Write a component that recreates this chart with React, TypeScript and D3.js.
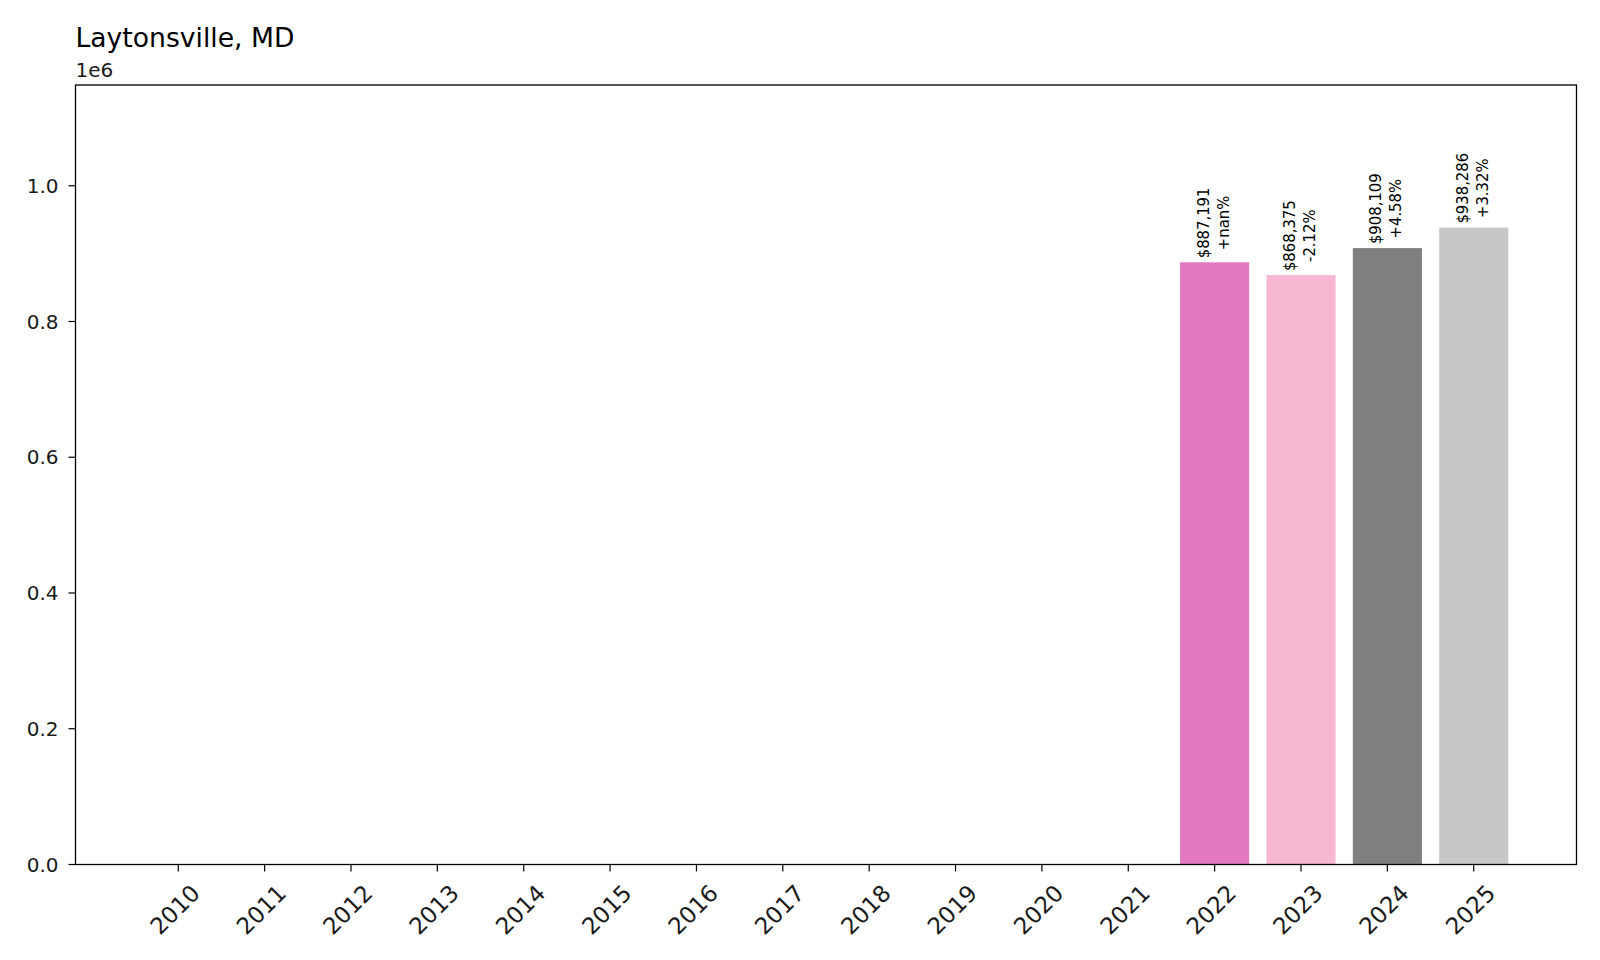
import React, { useEffect, useRef } from "react";
import * as d3 from "d3";

const title = "Laytonsville, MD";
const years = ["2010", "2011", "2012", "2013", "2014", "2015", "2016", "2017", "2018", "2019", "2020", "2021", "2022", "2023", "2024", "2025"];
const values = [0, 0, 0, 0, 0, 0, 0, 0, 0, 0, 0, 0, 887191, 868375, 908109, 938286];
const priceLabels = ["", "", "", "", "", "", "", "", "", "", "", "", "$887,191", "$868,375", "$908,109", "$938,286"];
const pctLabels = ["", "", "", "", "", "", "", "", "", "", "", "", "+nan%", "-2.12%", "+4.58%", "+3.32%"];
const barColors = ["#1f77b4", "#aec7e8", "#ff7f0e", "#ffbb78", "#2ca02c", "#98df8a", "#d62728", "#ff9896", "#9467bd", "#c5b0d5", "#8c564b", "#c49c94", "#e377c2", "#f7b6d2", "#7f7f7f", "#c7c7c7"];
const yTicks = [0, 0.2e6, 0.4e6, 0.6e6, 0.8e6, 1.0e6];
const yTickLabels = ["0.0", "0.2", "0.4", "0.6", "0.8", "1.0"];
const yMax = 1.1484e6;

const W = 1600;
const H = 960;
const FONT = "'DejaVu Sans', sans-serif";
const ANN_FONT = "'DejaVu Sans Condensed', 'DejaVu Sans', sans-serif";

export default function App() {
  const ref = useRef<SVGSVGElement | null>(null);

  useEffect(() => {
    const svg = d3.select(ref.current);
    svg.selectAll("*").remove();

    const left = 75.5, right = 1576.5, top = 85, bottom = 864.5;
    const n = years.length;
    const x = d3.scaleLinear().domain([-1.19, n - 1 + 1.19]).range([left, right]);
    const y = d3.scaleLinear().domain([0, yMax]).range([bottom, top]);
    const bw = 0.8;

    svg.append("rect").attr("x", 0).attr("y", 0).attr("width", W).attr("height", H).attr("fill", "#fff");

    // bars
    svg.append("g").selectAll("rect").data(values).join("rect")
      .attr("x", (_d, i) => x(i - bw / 2))
      .attr("width", x(bw) - x(0))
      .attr("y", (d) => y(d))
      .attr("height", (d) => y(0) - y(d))
      .attr("fill", (_d, i) => barColors[i]);

    // annotations
    const ann = svg.append("g").attr("font-family", ANN_FONT).attr("font-size", 16.5).attr("fill", "#000");
    values.forEach((v, i) => {
      if (!v) return;
      const g = ann.append("g").attr("transform", `translate(${x(i)},${y(v) - 4}) rotate(-90)`);
      const t1 = g.append("text").attr("y", -6).attr("text-anchor", "middle").text(priceLabels[i]);
      const t2 = g.append("text").attr("y", 14).attr("text-anchor", "middle").text(pctLabels[i]);
      const l1 = (t1.node() as SVGTextElement).getComputedTextLength();
      const l2 = (t2.node() as SVGTextElement).getComputedTextLength();
      const half = Math.max(l1, l2) / 2;
      t1.attr("x", half);
      t2.attr("x", half);
    });

    // frame
    svg.append("rect").attr("x", left).attr("y", top).attr("width", right - left).attr("height", bottom - top)
      .attr("fill", "none").attr("stroke", "#000").attr("stroke-width", 1.3);

    // y ticks
    const yt = svg.append("g").attr("font-family", FONT).attr("font-size", 20).attr("fill", "#1a1a1a");
    yTicks.forEach((t, i) => {
      yt.append("line").attr("x1", left - 7).attr("x2", left).attr("y1", y(t)).attr("y2", y(t)).attr("stroke", "#000").attr("stroke-width", 1.2);
      yt.append("text").attr("x", left - 17).attr("y", y(t)).attr("dy", "0.36em").attr("text-anchor", "end").text(yTickLabels[i]);
    });

    // x ticks
    const xt = svg.append("g").attr("font-family", FONT).attr("font-size", 23).attr("fill", "#1a1a1a");
    years.forEach((yr, i) => {
      const cx = x(i);
      xt.append("line").attr("x1", cx).attr("x2", cx).attr("y1", bottom).attr("y2", bottom + 7).attr("stroke", "#000").attr("stroke-width", 1.2);
      xt.append("text")
        .attr("transform", `translate(${cx - 3.5},${909.5}) rotate(-45)`)
        .attr("text-anchor", "middle").attr("dy", "0.36em").text(yr);
    });

    // title and offset
    svg.append("text").attr("x", left).attr("y", 46.5).attr("font-family", FONT).attr("font-size", 26.6).attr("fill", "#000").text(title);
    svg.append("text").attr("x", left).attr("y", 76.5).attr("font-family", FONT).attr("font-size", 20).attr("fill", "#1a1a1a").text("1e6");
  }, []);

  return (
    <svg ref={ref} width={W} height={H} style={{ position: "absolute", left: 0, top: 0, display: "block" }} />
  );
}
